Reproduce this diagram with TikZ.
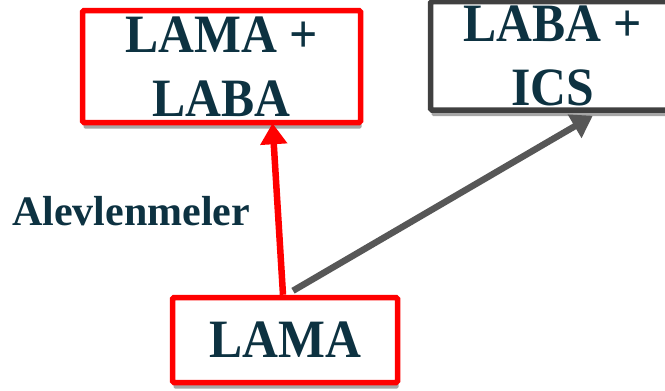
\documentclass[tikz,border=0pt]{standalone}
\usepackage{fontspec}
\setmainfont{Liberation Serif}
\newfontfamily\boxfont[FakeStretch=0.92]{Liberation Serif}
\usetikzlibrary{arrows.meta,shadows}
\definecolor{txt}{HTML}{0D3241}
\definecolor{boxgray}{HTML}{404040}
\definecolor{arrgray}{HTML}{575757}
\begin{document}
\begin{tikzpicture}[x=1pt,y=1pt,
  box/.style={draw, line width=5.5pt, rounded corners=1.5pt, fill=white, inner sep=0pt,
    align=center, text=txt, font=\boxfont\bfseries\fontsize{54}{64}\selectfont,
    drop shadow={shadow xshift=1pt, shadow yshift=-6pt, opacity=0.35, fill=black}},
  conn/.style={line width=6.5pt, -{Triangle[length=21pt,width=26pt]}}]
\useasboundingbox (0,0) rectangle (665,-391);
\clip (0,0) rectangle (665,-391);
\node[box, draw=red, minimum width=278pt, minimum height=112pt] (lb) at (221.5,-66.5) {LAMA +\\LABA};
\node[box, draw=boxgray, minimum width=244.5pt, minimum height=108.5pt] (lx) at (552.75,-55.75) {LABA +\\ICS};
\node[box, draw=red, minimum width=225pt, minimum height=85pt] (lama) at (285,-340) {LAMA};
\node[anchor=base west, inner sep=0pt, text=txt, font=\bfseries\fontsize{42}{48}\selectfont] (al) at (12,-225) {Alevlenmeler};
\draw[conn, red] ([xshift=-2pt]lama.north) -- ([xshift=51pt,yshift=2pt]lb.south);
\draw[conn, arrgray] ([xshift=8pt,yshift=4pt]lama.north) -- ([xshift=40pt,yshift=-3pt]lx.south);
\end{tikzpicture}
\end{document}
